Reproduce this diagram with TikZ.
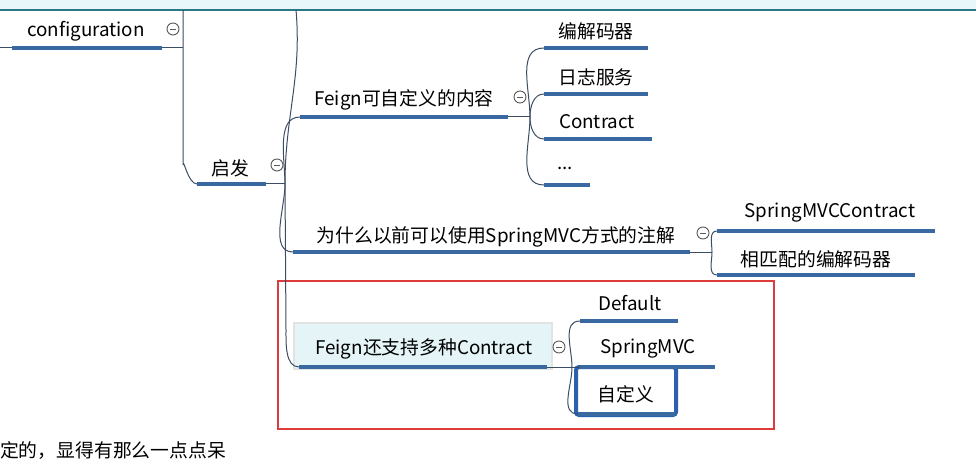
\documentclass[tikz,border=0pt]{standalone}
\usepackage{fontspec}
\setmainfont{Noto Sans CJK SC}
\definecolor{ulblue}{RGB}{58,104,160}
\definecolor{connc}{RGB}{60,78,100}
\definecolor{redbox}{RGB}{222,60,60}
\definecolor{topteal}{RGB}{40,120,135}
\definecolor{topstrip}{RGB}{232,247,250}
\definecolor{boxfill}{RGB}{228,244,247}
\definecolor{selblue}{RGB}{45,95,175}
\tikzset{
  ul/.style={draw=ulblue, line width=3.5pt},
  conn/.style={draw=connc, line width=1pt},
  lbl/.style={font=\fontsize{18.8}{22}\selectfont, text=black, inner sep=0pt},
  colbtn/.style={circle, draw=gray!70!black, line width=0.9pt, minimum size=12pt, inner sep=0pt, fill=white,
    path picture={\draw[gray!70!black, line width=0.9pt] ([xshift=-3pt]path picture bounding box.center) -- ([xshift=3pt]path picture bounding box.center);}},
}
\begin{document}
\begin{tikzpicture}[x=1pt,y=-1pt]
\useasboundingbox (0,0) rectangle (976,462);
\fill[white] (0,0) rectangle (976,462);
% top strip
\fill[topstrip] (0,0) rectangle (976,9);
\draw[topteal, line width=2pt] (0,10) -- (976,10);

% highlighted node background
\node[draw=gray!22, line width=2.5pt, fill=boxfill, minimum width=258pt, minimum height=46pt, inner sep=0pt] (hlbox) at (423,346) {};
% red frame
\node[draw=redbox, line width=2pt, minimum width=496pt, minimum height=148pt, inner sep=0pt] (redframe) at (525.5,354.5) {};
% selected node box
\node[draw=selblue, line width=4pt, rounded corners=3pt, fill=white, minimum width=100pt, minimum height=48pt, inner sep=0pt] (selbox) at (626,391) {};

% coordinates of underlines
\coordinate (topA) at (183,10);
\coordinate (topB) at (296,10);
\coordinate (leftE) at (0,48);
\coordinate (cfgL) at (12,48);   \coordinate (cfgR) at (162,48);
\coordinate (cfgJ) at (183,48);
\coordinate (qfL) at (197,184);  \coordinate (qfR) at (266,184);
\coordinate (qfB) at (285,184);
\coordinate (f1L) at (300,117);  \coordinate (f1R) at (508,117);
\coordinate (f1B) at (530,117);
\coordinate (c1L) at (544,48);   \coordinate (c1R) at (648,48);
\coordinate (c2L) at (544,94);   \coordinate (c2R) at (648,94);
\coordinate (c3L) at (544,139);  \coordinate (c3R) at (652,139);
\coordinate (c4L) at (544,185);  \coordinate (c4R) at (590,185);
\coordinate (wL) at (293,252);   \coordinate (wR) at (690,252);
\coordinate (wB) at (712,252);
\coordinate (w1L) at (717,231);  \coordinate (w1R) at (935,231);
\coordinate (w2L) at (717,275);  \coordinate (w2R) at (915,275);
\coordinate (f2L) at (299,367);  \coordinate (f2R) at (547,367);
\coordinate (f2B) at (572,367);
\coordinate (d1L) at (580,321);  \coordinate (d1R) at (678,321);
\coordinate (d2L) at (580,367);  \coordinate (d2R) at (715,367);
\coordinate (d3L) at (578,414);  \coordinate (d3R) at (675,414);

% connectors
\draw[conn] (leftE) -- (cfgL);
\draw[conn] (cfgR) -- (cfgJ);
\draw[conn] (topA) -- (183,165) to[out=90,in=180] (qfL);
\draw[conn] (qfR) -- (qfB);
\draw[conn] (qfB) to[out=90,in=-85] (topB);
\draw[conn] (qfB) to[out=90,in=180,looseness=0.9] (f1L);
\draw[conn] (qfB) to[out=-90,in=180,looseness=0.9] (wL);
\draw[conn] (qfB) -- (286,330) to[out=-90,in=180,looseness=0.9] (f2L);
\draw[conn] (f1R) -- (f1B);
\draw[conn] (f1B) to[out=90,in=180] (c1L);
\draw[conn] (f1B) to[out=90,in=180] (c2L);
\draw[conn] (f1B) to[out=-90,in=180] (c3L);
\draw[conn] (f1B) to[out=-90,in=180] (c4L);
\draw[conn] (wR) -- (wB);
\draw[conn] (wB) to[out=90,in=180] (w1L);
\draw[conn] (wB) to[out=-90,in=180] (w2L);
\draw[conn] (f2R) -- (f2B);
\draw[conn] (f2B) to[out=90,in=180] (d1L);
\draw[conn] (f2B) -- (d2L);
\draw[conn] (f2B) to[out=-90,in=180] (d3L);

% underlines
\draw[ul] (cfgL) -- (cfgR);
\draw[ul] (qfL) -- (qfR);
\draw[ul] (f1L) -- (f1R);
\draw[ul] (c1L) -- (c1R);
\draw[ul] (c2L) -- (c2R);
\draw[ul] (c3L) -- (c3R);
\draw[ul] (c4L) -- (c4R);
\draw[ul] (wL) -- (wR);
\draw[ul] (w1L) -- (w1R);
\draw[ul] (w2L) -- (w2R);
\draw[ul] (f2L) -- (f2R);
\draw[ul] (d1L) -- (d1R);
\draw[ul] (d2L) -- (d2R);
\draw[ul] (d3L) -- (d3R);

% labels
\node[lbl] (cfg) at (86,31) {configuration};
\node[lbl] (qf) at (230,168) {启发};
\node[lbl] (f1) at (404,100) {Feign可自定义的内容};
\node[lbl] (c1) at (596,31) {编解码器};
\node[lbl] (c2) at (596,77) {日志服务};
\node[lbl] (c3) at (597,122) {Contract};
\node[lbl] (c4) at (565,168) {...};
\node[lbl] (w) at (496,237) {为什么以前可以使用SpringMVC方式的注解};
\node[lbl] (w1) at (830,213) {SpringMVCContract};
\node[lbl] (w2) at (816,259) {相匹配的编解码器};
\node[lbl] (f2) at (424,349) {Feign还支持多种Contract};
\node[lbl] (d1) at (630,303) {Default};
\node[lbl] (d2) at (648,349) {SpringMVC};
\node[lbl] (d3) at (626,394) {自定义};
\node[lbl, anchor=west] (bottom) at (0,451) {定的，显得有那么一点点呆};

% collapse buttons
\node[colbtn] (b1) at (173,29) {};
\node[colbtn] (b2) at (277,165) {};
\node[colbtn] (b3) at (520,97) {};
\node[colbtn] (b4) at (703,233) {};
\node[colbtn] (b5) at (559,347) {};
\end{tikzpicture}
\end{document}
